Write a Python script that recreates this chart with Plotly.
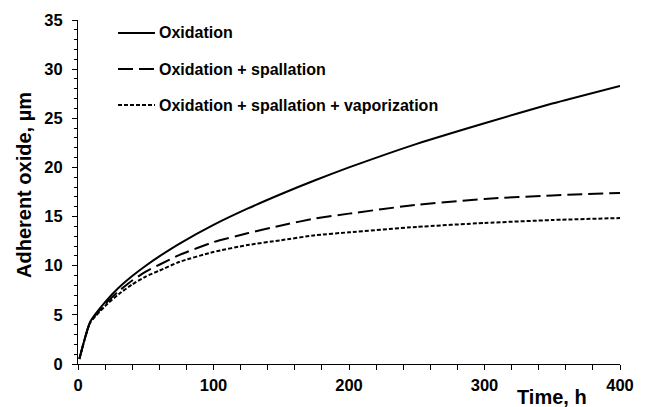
import plotly.graph_objects as go

# Oxide thickness (µm) versus exposure time (h)
time_h = [1, 9, 20, 30, 40, 50, 60, 75, 100, 125, 150, 175, 200, 250, 300, 350, 400]
oxidation = [0.5, 4.3, 6.3, 7.75, 8.95, 10.0, 10.95, 12.25, 14.15, 15.8, 17.3, 18.7, 20.0, 22.4, 24.5, 26.5, 28.3]
ox_spall = [0.5, 4.25, 6.1, 7.4, 8.5, 9.4, 10.1, 11.1, 12.4, 13.3, 14.1, 14.8, 15.3, 16.2, 16.8, 17.15, 17.4]
ox_spall_vap = [0.5, 4.2, 5.9, 7.1, 8.1, 8.9, 9.5, 10.4, 11.4, 12.1, 12.6, 13.1, 13.4, 13.95, 14.35, 14.65, 14.85]

series_names = ["Oxidation", "Oxidation + spallation", "Oxidation + spallation + vaporization"]
series_values = [oxidation, ox_spall, ox_spall_vap]
series_dash = ["solid", "15px,6px", "4px,2px"]

x_ticks = [0, 100, 200, 300, 400]
y_ticks = [0, 5, 10, 15, 20, 25, 30, 35]

FONT = "Liberation Sans, Arial, sans-serif"

fig = go.Figure()
for name, vals, dash in zip(series_names, series_values, series_dash):
    fig.add_trace(go.Scatter(
        x=time_h, y=vals, mode="lines", name=name,
        line=dict(color="black", width=2, dash=dash, shape="spline", smoothing=0.5),
        showlegend=False,
    ))

# Hand-drawn legend block at upper left
legend_rows_y = [33, 69, 105]
for (name, dash, ypx) in zip(series_names, series_dash, legend_rows_y):
    yp = 1 - (ypx - 20) / 344
    fig.add_shape(type="line", xref="paper", yref="paper",
                  x0=(118 - 78) / 542, x1=(155 - 78) / 542, y0=yp, y1=yp,
                  line=dict(color="black", width=2, dash=dash))
    fig.add_annotation(xref="paper", yref="paper", x=(157 - 78) / 542, y=yp,
                       text=f"<b>{name}</b>", showarrow=False, xanchor="left", yanchor="middle",
                       font=dict(family=FONT, size=16, color="black"))

fig.add_annotation(xref="paper", yref="paper", x=(552 - 78) / 542, y=-(397 - 364) / 344,
                   text="<b>Time, h</b>", showarrow=False, xanchor="center", yanchor="middle",
                   font=dict(family=FONT, size=20, color="black"))
fig.add_annotation(xref="paper", yref="paper", x=-(78 - 24) / 542, y=1 - (185 - 20) / 344,
                   text="<b>Adherent oxide, µm</b>", showarrow=False, textangle=-90,
                   xanchor="center", yanchor="middle",
                   font=dict(family=FONT, size=20, color="black"))

fig.update_xaxes(
    range=[0, 400], tickvals=x_ticks, ticktext=[f"<b>{v}</b>" for v in x_ticks],
    ticks="outside", ticklen=5, tickwidth=1, tickcolor="black",
    minor=dict(dtick=20, ticks="outside", ticklen=5, tickwidth=1, tickcolor="black"),
    showline=True, linecolor="black", linewidth=1, showgrid=False, zeroline=False,
    tickfont=dict(family=FONT, size=16.5, color="black"), ticklabelstandoff=1,
)
fig.update_yaxes(
    range=[0, 35], tickvals=y_ticks, ticktext=[f"<b>{v}</b>" for v in y_ticks],
    ticks="outside", ticklen=5, tickwidth=1, tickcolor="black",
    minor=dict(dtick=1, ticks="outside", ticklen=3, tickwidth=1, tickcolor="black"),
    showline=True, linecolor="black", linewidth=1, showgrid=False, zeroline=False,
    tickfont=dict(family=FONT, size=16.5, color="black"), ticklabelstandoff=6,
)
fig.update_layout(
    width=649, height=407,
    margin=dict(l=78, r=29, t=20, b=43),
    paper_bgcolor="white", plot_bgcolor="white",
)
fig.write_html("out.html")
